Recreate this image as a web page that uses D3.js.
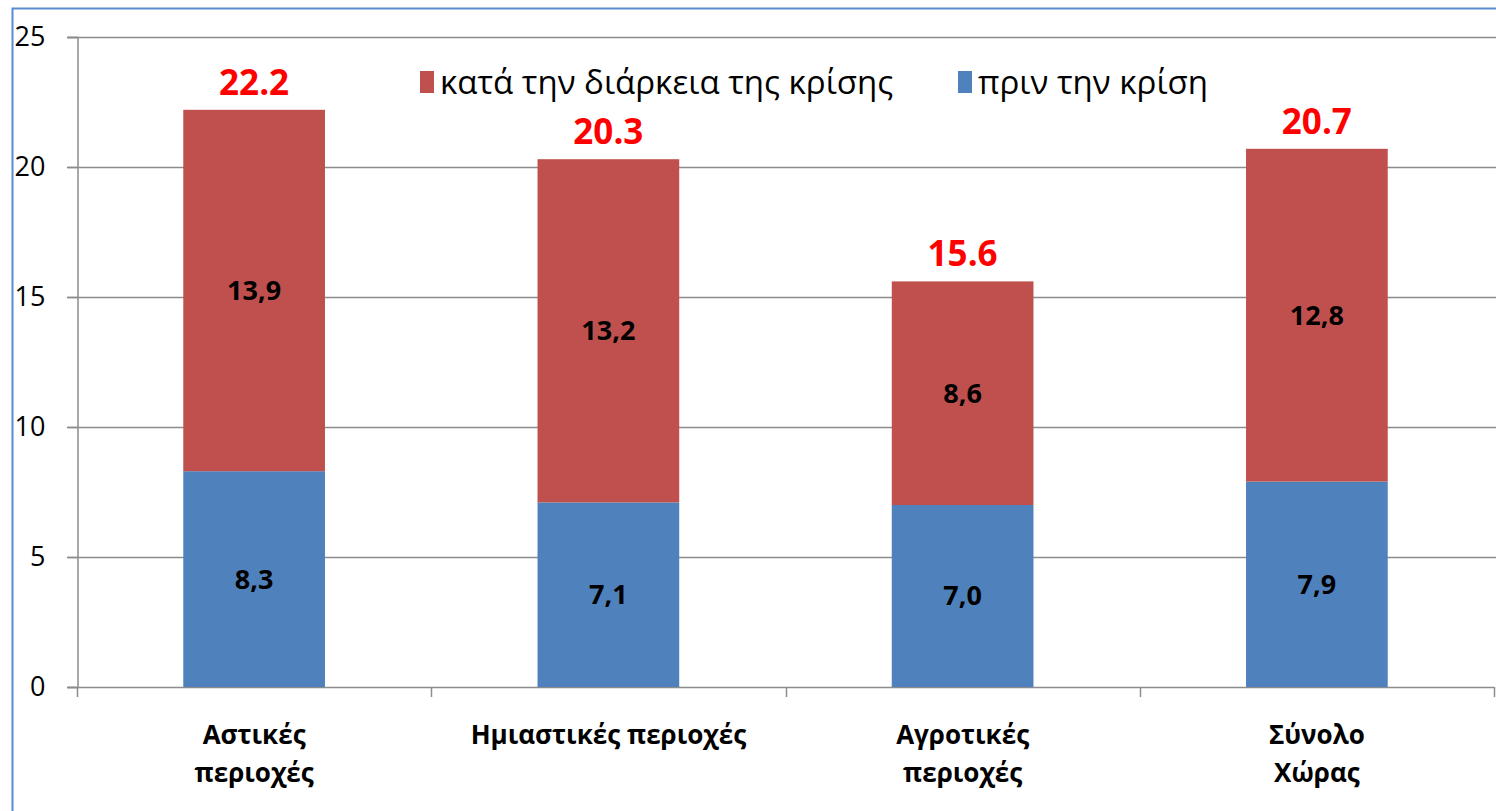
<!DOCTYPE html>
<html>
<head>
<meta charset="utf-8">
<script src="https://cdn.jsdelivr.net/npm/d3@7"></script>
<style>
  body { margin: 0; background: #fff; }
  svg { display: block; font-family: "Open Sans", "Noto Sans", sans-serif; }
</style>
</head>
<body>
<svg id="chart"></svg>
<script>
const categories = [["Αστικές", "περιοχές"], ["Ημιαστικές περιοχές"], ["Αγροτικές", "περιοχές"], ["Σύνολο", "Χώρας"]];
const before = [8.3, 7.1, 7.0, 7.9];
const during = [13.9, 13.2, 8.6, 12.8];
const totals = ["22.2", "20.3", "15.6", "20.7"];
const yTicks = [0, 5, 10, 15, 20, 25];
const seriesNames = ["κατά την διάρκεια της κρίσης", "πριν την κρίση"];

const width = 1496, height = 811;
const margin = { top: 37, right: 2, bottom: 124, left: 77 };
const red = "#c0504d", blue = "#4f81bd";

const svg = d3.select("#chart").attr("width", width).attr("height", height);

// outer frame (only top and left edges show)
svg.append("path")
  .attr("d", `M12.5,${height} V8.5 H${width}`)
  .attr("fill", "none")
  .attr("stroke", "#5b8bd0")
  .attr("stroke-width", 2);

const x = d3.scaleBand()
  .domain(d3.range(categories.length))
  .range([margin.left, width - margin.right])
  .paddingInner(0.6)
  .paddingOuter(0.3);

const y = d3.scaleLinear()
  .domain([0, 25])
  .range([height - margin.bottom, margin.top]);

// gridlines
svg.append("g")
  .selectAll("line")
  .data(yTicks.slice(1))
  .join("line")
  .attr("x1", margin.left - 10)
  .attr("x2", width)
  .attr("y1", d => Math.round(y(d)) + 0.5)
  .attr("y2", d => Math.round(y(d)) + 0.5)
  .attr("stroke", "#8c8c8c")
  .attr("stroke-width", 1.5);

// y axis
const yAxis = svg.append("g")
  .attr("transform", `translate(${margin.left + 0.5},0)`)
  .call(d3.axisLeft(y).tickValues(yTicks).tickSize(10).tickPadding(22));
yAxis.select(".domain").attr("stroke", "#8c8c8c").attr("stroke-width", 1.5);
yAxis.selectAll(".tick line").attr("stroke", "#8c8c8c").attr("stroke-width", 1.5);
yAxis.selectAll(".tick text").attr("font-size", 27).attr("fill", "#000")
  .attr("font-family", "Open Sans, sans-serif");

// x axis: ticks at category boundaries
const bounds = d3.range(categories.length + 1).map(i => margin.left + i * x.step());
svg.append("line")
  .attr("x1", margin.left - 10).attr("x2", width - margin.right)
  .attr("y1", y(0) + 0.5).attr("y2", y(0) + 0.5)
  .attr("stroke", "#8c8c8c").attr("stroke-width", 1.5);
svg.append("g")
  .selectAll("line")
  .data(bounds)
  .join("line")
  .attr("x1", d => Math.round(d) + 0.5).attr("x2", d => Math.round(d) + 0.5)
  .attr("y1", y(0)).attr("y2", y(0) + 10)
  .attr("stroke", "#8c8c8c").attr("stroke-width", 1.5);

// stacked bars
const bars = svg.append("g");
categories.forEach((c, i) => {
  bars.append("rect")
    .attr("x", x(i)).attr("width", x.bandwidth())
    .attr("y", y(before[i])).attr("height", y(0) - y(before[i]))
    .attr("fill", blue);
  bars.append("rect")
    .attr("x", x(i)).attr("width", x.bandwidth())
    .attr("y", y(before[i] + during[i])).attr("height", y(before[i]) - y(before[i] + during[i]))
    .attr("fill", red);
});

// segment labels
const fmt = v => v.toFixed(1).replace(".", ",");
const labels = svg.append("g")
  .attr("font-size", 27).attr("font-weight", "bold").attr("text-anchor", "middle");
categories.forEach((c, i) => {
  labels.append("text")
    .attr("x", x(i) + x.bandwidth() / 2)
    .attr("y", y(before[i] / 2)).attr("dy", "0.35em")
    .text(fmt(before[i]));
  labels.append("text")
    .attr("x", x(i) + x.bandwidth() / 2)
    .attr("y", y(before[i] + during[i] / 2)).attr("dy", "0.35em")
    .text(fmt(during[i]));
  // red totals
  svg.append("text")
    .attr("x", x(i) + x.bandwidth() / 2)
    .attr("y", y(before[i] + during[i]) - 15)
    .attr("text-anchor", "middle")
    .attr("font-size", 35).attr("font-weight", "bold").attr("fill", "#ff0000")
    .text(totals[i]);
});

// category labels
categories.forEach((c, i) => {
  const t = svg.append("text")
    .attr("text-anchor", "middle")
    .attr("font-size", 26).attr("font-weight", "bold");
  c.forEach((line, j) => {
    t.append("tspan")
      .attr("x", x(i) + x.bandwidth() / 2)
      .attr("y", 744 + j * 38)
      .text(line);
  });
});

// legend
const legend = svg.append("g").attr("font-size", 33);
const legendX = [420, 958];
[red, blue].forEach((col, i) => {
  legend.append("rect")
    .attr("x", legendX[i]).attr("y", 71).attr("width", 14).attr("height", 22)
    .attr("fill", col);
  legend.append("text")
    .attr("x", legendX[i] + 20).attr("y", 94)
    .text(seriesNames[i]);
});
</script>
</body>
</html>
